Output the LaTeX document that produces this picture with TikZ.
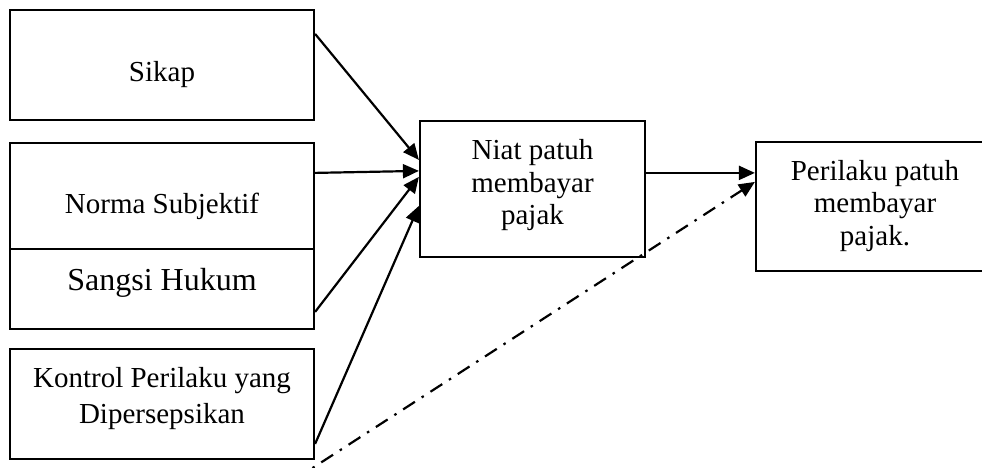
\documentclass[tikz,border=0pt]{standalone}
\usepackage{fontspec}
\setmainfont{Liberation Serif}
\usetikzlibrary{arrows.meta}
\tikzset{
  box/.style={draw=black, line width=2.2pt, inner sep=0pt, rectangle},
  txt/.style={inner sep=0pt, anchor=base, font=\fontsize{29}{33}\selectfont},
  bigtxt/.style={inner sep=0pt, anchor=base, font=\fontsize{32}{36}\selectfont},
  arr/.style={line width=2.2pt, -{Triangle[length=16pt,width=14pt]}},
  dashdot/.style={line width=2.2pt, dash pattern=on 14pt off 8pt on 2.5pt off 8pt, -{Triangle[length=16pt,width=14pt]}}
}
\begin{document}
\begin{tikzpicture}[x=1pt,y=-1pt]
\clip (0,0) rectangle (982,468);
\fill[white] (0,0) rectangle (982,468);
% boxes
\node[box, minimum width=304pt, minimum height=110pt] (sikap) at (162,65) {};
\node[box, minimum width=304pt, minimum height=106pt] (norma) at (162,196) {};
\node[box, minimum width=304pt, minimum height=80pt] (sangsi) at (162,289) {};
\node[box, minimum width=304pt, minimum height=110pt] (kontrol) at (162,404) {};
\node[box, minimum width=225pt, minimum height=136pt] (niat) at (532.5,189) {};
\node[box, minimum width=238pt, minimum height=129pt] (perilaku) at (875,206.5) {};
% texts
\node[txt] (tsikap) at (162,82) {Sikap};
\node[txt] (tnorma) at (162,213) {Norma Subjektif};
\node[bigtxt] (tsangsi) at (162,290) {Sangsi Hukum};
\node[txt] (tkon1) at (162,387) {Kontrol Perilaku yang};
\node[txt] (tkon2) at (162,423) {Dipersepsikan};
\node[txt] (tniat1) at (532.5,159) {Niat patuh};
\node[txt] (tniat2) at (532.5,192) {membayar};
\node[txt] (tniat3) at (532.5,224) {pajak};
\node[txt] (tper1) at (875,180) {Perilaku patuh};
\node[txt] (tper2) at (875,212) {membayar};
\node[txt] (tper3) at (875,245) {pajak.};
% connectors
\draw[arr] ([yshift=-25pt]sikap.north east) -- ([yshift=-40pt]niat.north west);
\draw[arr] ([yshift=-31pt]norma.north east) -- ([yshift=-51pt]niat.north west);
\draw[arr] ([yshift=-64pt]sangsi.north east) -- ([yshift=-57pt]niat.north west);
\draw[arr] ([yshift=-96pt]kontrol.north east) -- ([yshift=-86pt]niat.north west);
\draw[arr] ([yshift=-53pt]niat.north east) -- ([yshift=-32pt]perilaku.north west);
\coordinate (dstart) at (294,480);
\draw[dashdot] (dstart) -- ([yshift=-41pt]perilaku.north west);
\end{tikzpicture}
\end{document}
